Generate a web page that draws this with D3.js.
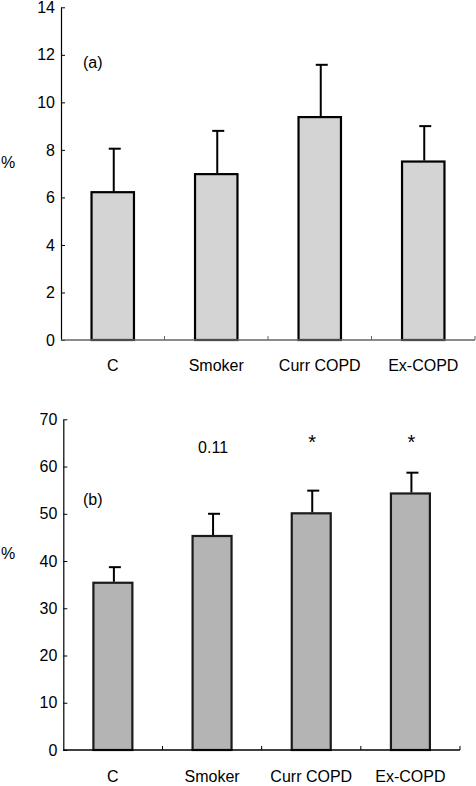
<!DOCTYPE html>
<html>
<head>
<meta charset="utf-8">
<script src="https://cdn.jsdelivr.net/npm/d3@7"></script>
<style>
  html, body { margin: 0; padding: 0; background: #fff; }
  svg text { font-family: "Liberation Sans", Arial, Helvetica, sans-serif; fill: #000; }
</style>
</head>
<body>
<svg id="chart" width="476" height="786"></svg>
<script>
const categories = ["C", "Smoker", "Curr COPD", "Ex-COPD"];

// Panel (a)
const valuesA = [6.22, 6.98, 9.38, 7.51];
const errTopA = [8.05, 8.8, 11.58, 9.0];
const ticksA = [0, 2, 4, 6, 8, 10, 12, 14];

// Panel (b)
const valuesB = [35.4, 45.3, 50.1, 54.3];
const errTopB = [38.7, 50.0, 54.9, 58.7];
const ticksB = [0, 10, 20, 30, 40, 50, 60, 70];
const annotB = ["", "0.11", "*", "*"];

const svg = d3.select("#chart");
const FS = 16;

function panel(opts) {
  const g = svg.append("g");
  const x = d3.scaleBand().domain(categories)
    .range([opts.x0, opts.x1])
    .paddingInner(opts.pad).paddingOuter(opts.pad / 2);
  const y = d3.scaleLinear().domain([0, opts.ymax]).range([opts.yBottom, opts.yTop]);

  // y axis
  const ya = g.append("g")
    .attr("transform", `translate(${opts.x0},0)`)
    .call(d3.axisLeft(y).tickValues(opts.ticks).tickSizeInner(-4).tickSizeOuter(0).tickPadding(6));
  ya.select(".domain").attr("stroke", "#000").attr("stroke-width", 1.2);
  ya.selectAll(".tick line").attr("stroke", "#000");
  ya.selectAll(".tick text").attr("font-size", FS).attr("font-family", "Liberation Sans, Arial, sans-serif").attr("fill", "#000");

  // bars
  g.selectAll("rect.bar").data(opts.values).enter().append("rect")
    .attr("class", "bar")
    .attr("x", (d, i) => x(categories[i]))
    .attr("width", x.bandwidth())
    .attr("y", d => y(d))
    .attr("height", d => y(0) - y(d))
    .attr("fill", opts.fill)
    .attr("stroke", opts.barStroke)
    .attr("stroke-width", 2.2);

  // error bars
  const cx = i => x(categories[i]) + x.bandwidth() / 2 + 1;
  g.selectAll("line.err").data(opts.errTop).enter().append("line")
    .attr("x1", (d, i) => cx(i)).attr("x2", (d, i) => cx(i))
    .attr("y1", (d, i) => y(opts.values[i]) - 1)
    .attr("y2", d => y(d))
    .attr("stroke", "#000").attr("stroke-width", 2);
  g.selectAll("line.cap").data(opts.errTop).enter().append("line")
    .attr("x1", (d, i) => cx(i) - 5).attr("x2", (d, i) => cx(i) + 7)
    .attr("y1", d => y(d)).attr("y2", d => y(d))
    .attr("stroke", "#000").attr("stroke-width", 2);

  // x axis line and ticks at band boundaries
  g.append("line")
    .attr("x1", opts.x0).attr("x2", opts.x1)
    .attr("y1", y(0)).attr("y2", y(0))
    .attr("stroke", opts.xAxisColor).attr("stroke-width", 1.5);
  g.selectAll("line.xt").data(categories).enter().append("line")
    .attr("x1", d => x(d) + x.bandwidth() / 2 + x.step() / 2)
    .attr("x2", d => x(d) + x.bandwidth() / 2 + x.step() / 2)
    .attr("y1", y(0)).attr("y2", y(0) - 4)
    .attr("stroke", opts.xAxisColor).attr("stroke-width", 1);

  // category labels
  g.selectAll("text.cat").data(categories).enter().append("text")
    .attr("x", d => x(d) + x.bandwidth() / 2)
    .attr("y", y(0) + opts.labelOffset)
    .attr("text-anchor", "middle")
    .attr("font-size", FS)
    .text(d => d);

  // % label
  g.append("text").attr("x", 1).attr("y", opts.pctY).attr("font-size", FS).text("%");
  // panel label
  g.append("text").attr("x", 83).attr("y", opts.panelY).attr("font-size", FS).text(opts.panelLabel);

  return { g, x, y };
}

panel({
  x0: 61, x1: 475, pad: 0.59, yTop: 7.3, yBottom: 340, ymax: 14, ticks: ticksA,
  values: valuesA, errTop: errTopA, fill: "#d4d4d4", barStroke: "#000",
  xAxisColor: "#666", labelOffset: 31, pctY: 168, panelY: 68, panelLabel: "(a)"
});

const pb = panel({
  x0: 63.3, x1: 460, pad: 0.607, yTop: 419.3, yBottom: 750, ymax: 70, ticks: ticksB,
  values: valuesB, errTop: errTopB, fill: "#b4b4b4", barStroke: "#1a1a1a",
  xAxisColor: "#000", labelOffset: 32, pctY: 559, panelY: 505, panelLabel: "(b)"
});

svg.selectAll("text.annot").data(annotB).enter().append("text")
  .attr("x", (d, i) => pb.x(categories[i]) + pb.x.bandwidth() / 2 + 1)
  .attr("y", d => d === "*" ? 449 : 453)
  .attr("text-anchor", "middle")
  .attr("font-size", d => d === "*" ? 20 : FS)
  .text(d => d);
</script>
</body>
</html>
